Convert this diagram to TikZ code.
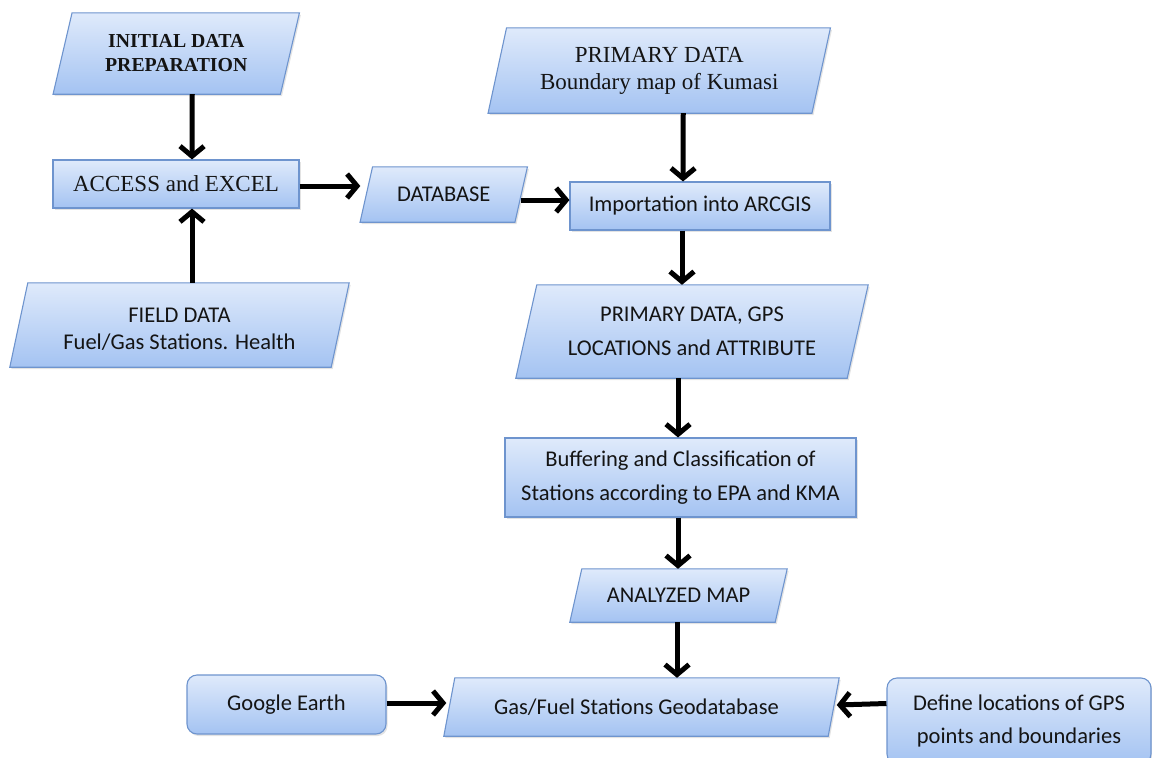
\documentclass[tikz,border=0pt]{standalone}
\usepackage{fontspec}
\setmainfont{Liberation Serif}
\newfontfamily\calib{Carlito}
\usetikzlibrary{arrows.meta,shadows,backgrounds}
\definecolor{bord}{RGB}{110,148,206}
\definecolor{topc}{RGB}{223,234,251}
\definecolor{botc}{RGB}{164,195,242}
\definecolor{txt}{RGB}{20,20,20}
\newcommand\parafill[2]{\path[boxfill] ([xshift=#2/2]#1.north west) -- ([xshift=#2/2]#1.north east) -- ([xshift=-#2/2]#1.south east) -- ([xshift=-#2/2]#1.south west) -- cycle;}
\begin{document}
\begin{tikzpicture}[x=1pt,y=-1pt,
 every node/.style={text=txt, align=center, inner sep=0pt},
 boxfill/.style={draw=bord, line width=1.1pt, top color=topc, bottom color=botc,
   drop shadow={opacity=0.22, shadow xshift=1.5pt, shadow yshift=-2pt}},
 rectbox/.style={boxfill, rectangle},
 roundbox/.style={boxfill, rectangle, rounded corners=10pt},
 parabox/.style={rectangle},
 arr/.style={line width=5pt, -{Straight Barb[length=10pt,width=24pt]}},
 serifb/.style={font=\fontsize{19.8}{24}\selectfont\bfseries},
 serifr/.style={font=\fontsize{23}{27}\selectfont},
 sans/.style={font=\calib\fontsize{22.5}{33.5}\selectfont},
]
\useasboundingbox (0,0) rectangle (1152,758);
\clip (0,0) rectangle (1152,758);

% parallelogram text nodes
\node[parabox, serifb, minimum width=227pt, minimum height=81pt] (init) at (176.25,53.5) {INITIAL DATA\\PREPARATION};
\begin{scope}
\clip (0,0) rectangle (400,349);
\node[parabox, font=\calib\fontsize{22.5}{27}\selectfont, minimum width=321pt, minimum height=84pt] (field) at (179.5,325) {\raisebox{-11pt}[0pt][0pt]{\begin{tabular}{@{}c@{}}FIELD DATA\\Fuel/Gas Stations. Health\end{tabular}}};
\end{scope}
\node[parabox, sans, minimum width=154.5pt, minimum height=55pt] (db) at (443.75,194.5) {DATABASE};
\node[parabox, serifr, minimum width=323.5pt, minimum height=85pt] (prim) at (659.25,70.5) {PRIMARY DATA\\Boundary map of Kumasi};
\node[parabox, sans, minimum width=331pt, minimum height=93pt] (gps) at (692,331.5) {PRIMARY DATA, GPS\\LOCATIONS and ATTRIBUTE};
\node[parabox, sans, minimum width=205pt, minimum height=53pt] (anl) at (678.5,595.5) {ANALYZED MAP};
\node[parabox, sans, minimum width=384pt, minimum height=58pt] (geo) at (641.5,707) {\hspace*{-10pt}Gas/Fuel Stations Geodatabase};

\begin{scope}[on background layer]
\parafill{init}{19}
\parafill{field}{18}
\parafill{db}{12.5}
\parafill{prim}{18.5}
\parafill{gps}{21}
\parafill{anl}{12}
\parafill{geo}{11}
\end{scope}

% rectangles
\node[rectbox, serifr, minimum width=246pt, minimum height=48pt] (access) at (176,184) {ACCESS and EXCEL};
\node[rectbox, sans, minimum width=260pt, minimum height=48pt] (imp) at (700,206) {Importation into ARCGIS};
\node[rectbox, sans, minimum width=351pt, minimum height=79pt] (buff) at (680.5,477.5) {Buffering and Classification of\\Stations according to EPA and KMA};
\node[roundbox, sans, minimum width=199pt, minimum height=59pt] (ge) at (286.5,704.5) {Google Earth};
\node[roundbox, sans, minimum width=264pt, minimum height=86pt] (def) at (1019,721) {Define locations of GPS\\points and boundaries};

% connectors
\draw[arr] ([xshift=16pt]init.south) -- ([xshift=16pt]access.north);
\draw[arr] ([xshift=12.5pt]field.north) -- ([xshift=16pt]access.south);
\draw[arr] ([yshift=-2pt]access.east) -- ([yshift=8.5pt,xshift=-6pt]db.west);
\draw[arr] ([yshift=-5.5pt]db.east) -- ([yshift=6pt]imp.west);
\draw[arr] ([xshift=24pt]prim.south) -- ([xshift=-17pt]imp.north);
\draw[arr] ([xshift=-18pt]imp.south) -- ([xshift=-10pt]gps.north);
\draw[arr] ([xshift=-14pt]gps.south) -- ([xshift=-2.5pt]buff.north);
\draw[arr] ([xshift=-2.5pt]buff.south) -- ([xshift=-0.5pt]anl.north);
\draw[arr] ([xshift=-1.5pt]anl.south) -- ([xshift=35.5pt]geo.north);
\draw[arr] ([yshift=1.5pt]ge.east) -- ([yshift=4pt,xshift=-3pt]geo.west);
\draw[arr] ([yshift=17.5pt]def.west) -- ([yshift=2pt,xshift=3pt]geo.east);
\end{tikzpicture}
\end{document}
